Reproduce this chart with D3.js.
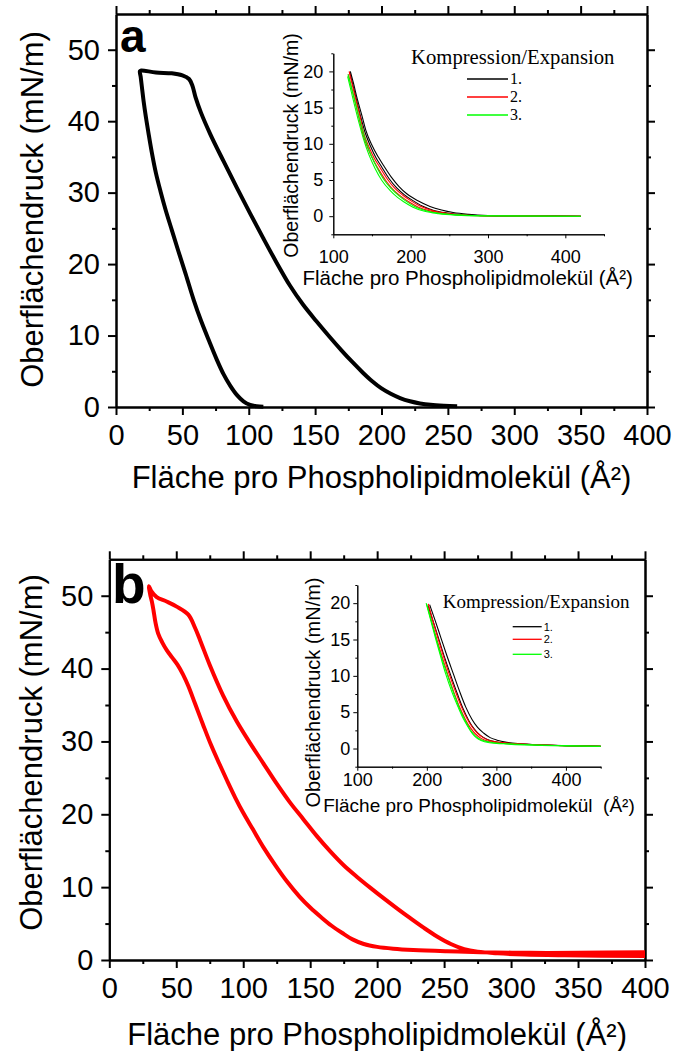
<!DOCTYPE html>
<html>
<head>
<meta charset="utf-8">
<title>Isothermen a / b</title>
<script src="https://cdn.jsdelivr.net/npm/d3@7"></script>
<style>
  body { margin: 0; background: #fff; }
  text { font-family: "Liberation Sans", Arial, sans-serif; fill: #000; }
  .serif { font-family: "Liberation Serif", "Times New Roman", serif; }
  .main .domain, .main .tick line { stroke: #000; stroke-width: 2; }
  .inset .domain, .inset .tick line { stroke: #000; stroke-width: 1; }
</style>
</head>
<body>
<script>
// ---- data ----
var mainXTicks = [0, 50, 100, 150, 200, 250, 300, 350, 400];
var mainXMinor = [25, 75, 125, 175, 225, 275, 325, 375];
var mainYTicks = [0, 10, 20, 30, 40, 50];
var mainYMinor = [5, 15, 25, 35, 45];
var insetXTicks = [100, 200, 300, 400];
var insetXMinor = [150, 250, 350, 450];
var insetYTicks = [0, 5, 10, 15, 20];
var insetYMinor = [-2.5, 2.5, 7.5, 12.5, 17.5, 22.5];
var legendLabels = ['1.', '2.', '3.'];

// panel a: hysteresis loop (compression right branch -> plateau -> expansion left branch)
var loopA = [[257,0.12],[247,0.18],[237,0.3],[229,0.5],[221.5,0.8],[214,1.25],[207,1.85],[200,2.6],[193,3.6],
  [186,4.8],[178,6.3],[170,7.9],[161,9.8],[151,12.0],[141,14.3],[131,17.0],[121,20.2],[111,23.6],
  [101,27.1],[91,30.7],[81,34.4],[71,38.2],[64,41.2],[60,43.3],[57.5,45.0],[55,45.9],[50,46.4],[42,46.7],
  [30,46.8],[19,47.1],[18,47.0],[18.6,46.2],[19.5,44.8],[20.8,42.8],[22.5,40.6],[24.5,38.3],[27,35.6],
  [30,32.8],[33.5,30.2],[37.5,27.5],[42,24.8],[47,21.8],[52.5,18.6],[58.5,15.0],[64,12.1],[70,9.3],
  [76,6.6],[81,4.6],[86,3.0],[91,1.7],[96,0.8],[101,0.3],[106,0.1],[111,0.03]];

// panel b: hysteresis loop
var loopB = [[400,0.55],[340,0.65],[310,0.75],[290,0.92],[275,1.15],[265,1.5],[255,2.2],[245,3.2],[235,4.4],
  [225,5.7],[215,7.05],[205,8.45],[195,9.9],[185,11.4],[175,13.0],[165,14.9],[155,17.0],[145,19.3],[135,21.6],
  [125,24.2],[115,27.0],[105,29.8],[95,32.8],[85,36.3],[75,40.5],[68,43.8],[64,45.6],[59,47.4],[50.3,48.5],
  [42.8,49.2],[35.4,49.8],[31.5,50.6],[29.6,51.3],[30.5,50.2],[31.8,49.2],[33,48.0],[34.5,46.3],[36.5,44.8],
  [39.5,43.6],[43,42.5],[47,41.5],[51,40.5],[55,39.2],[59,37.6],[64,35.2],[70,32.3],[76,29.5],[82,27.0],
  [88,24.6],[94,22.3],[100,20.2],[107,18.0],[115,15.5],[124,13.0],[133,10.7],[142,8.7],[150,7.2],[158,5.9],
  [166,4.7],[174,3.7],[182,2.8],[190,2.2],[200,1.8],[212,1.55],[227,1.37],[252,1.2],[277,1.08],[314,0.98],
  [350,1.0],[400,1.05]];

// inset a: three compression/expansion cycles
var insetA1c = [[122,20],[126,18.4],[131,16.2],[137,13.9],[142,11.9],[150,9.8],[158,8.2],[165,7.0],[175,5.4],
  [185,4.1],[195,3.1],[210,2.1],[225,1.35],[240,0.85],[255,0.5],[275,0.25],[300,0.1],[340,0.03],[420,0]];
var insetA1e = [[121.5,19.8],[126,17.8],[131,15.6],[136,13.5],[141,11.6],[148,9.7],[155,8.1],[162,6.9],[172,5.2],
  [182,3.9],[192,2.95],[203,2.15],[215,1.4],[230,0.8],[247,0.45],[267,0.2],[295,0.07],[340,0.02],[420,0]];
var insetA2c = [[120.5,20],[125,18],[130,15.8],[135,13.6],[139,11.6],[146,9.6],[153,8.0],[160,6.8],[170,5.1],
  [180,3.8],[190,2.9],[200,2.15],[212,1.4],[228,0.8],[245,0.45],[265,0.2],[290,0.08],[330,0.02],[420,0]];
var insetA2e = [[119.5,19.6],[124,17.6],[129,15.4],[134,13.2],[138,11.4],[145,9.3],[152,7.7],[159,6.4],[168,4.9],
  [178,3.6],[188,2.7],[198,1.95],[210,1.25],[226,0.7],[243,0.38],[262,0.17],[290,0.06],[420,0]];
var insetA3c = [[119,19.6],[124,17.6],[129,15.5],[134,13.4],[140,11.1],[147,8.9],[156,6.8],[165,5.1],[175,3.8],
  [185,2.8],[193,2.15],[205,1.35],[220,0.75],[238,0.4],[260,0.18],[290,0.06],[420,0]];
var insetA3e = [[118.5,19.3],[123,17.3],[128,15.1],[133,13.0],[139,10.7],[146,8.5],[154,6.6],[163,4.9],[173,3.6],
  [183,2.6],[191,2.0],[203,1.25],[218,0.68],[236,0.35],[258,0.15],[290,0.05],[420,0]];

// inset b: three compression/expansion cycles
var insetB1c = [[204,19.8],[212,17.6],[220,15.3],[228,13.0],[238,10.3],[247,7.9],[256,5.7],[265,4.0],[273,2.9],
  [282,2.1],[291,1.5],[301,1.15],[315,0.85],[335,0.65],[360,0.5],[400,0.4],[450,0.3]];
var insetB1e = [[202,19.6],[210,17.2],[218,14.8],[226,12.4],[235,9.9],[244,7.5],[252,5.5],[260,3.9],[268,2.7],
  [277,1.8],[287,1.25],[300,0.9],[320,0.7],[350,0.55],[400,0.4],[450,0.3]];
var insetB2c = [[202,19.9],[209,17.5],[216,15.2],[223,13.0],[232,10.3],[241,7.9],[250,5.7],[258,4.1],[265,3.0],
  [273,2.1],[281,1.5],[290,1.1],[305,0.85],[325,0.7],[350,0.55],[400,0.38],[450,0.3]];
var insetB2e = [[201,19.6],[208,17.1],[215,14.8],[222,12.6],[230,10.2],[239,7.7],[248,5.5],[256,3.9],[263,2.8],
  [270,2.0],[278,1.4],[288,1.0],[305,0.78],[330,0.62],[360,0.5],[400,0.38],[450,0.3]];
var insetB3c = [[199,20],[206,17.5],[213,15.0],[220,12.6],[227,10.3],[236,7.8],[245,5.7],[252,4.2],[259,3.0],
  [265,2.1],[271,1.5],[278,1.1],[290,0.8],[310,0.65],[340,0.5],[400,0.35],[450,0.3]];
var insetB3e = [[200,19.8],[208,17.0],[215,14.6],[222,12.3],[230,10.0],[239,7.5],[248,5.3],[256,3.7],[263,2.5],
  [270,1.7],[278,1.2],[290,0.9],[310,0.7],[340,0.55],[400,0.4],[450,0.32]];

var cycleColors = ['#000000', '#ff0000', '#00ff00'];
var xTitle = 'Fläche pro Phospholipidmolekül (Å²)';
var yTitle = 'Oberflächendruck (mN/m)';

var svg = d3.select('body').append('svg')
  .attr('width', 677).attr('height', 1051);
svg.append('rect').attr('width', 677).attr('height', 1051).attr('fill', '#fff');

function drawMain(c) {
  var x = d3.scaleLinear().domain([0, 400]).range([c.left, c.right]);
  var y = d3.scaleLinear().domain([0, 55]).range([c.bottom, c.top]);
  var g = svg.append('g').attr('class', 'main');

  function ax(axis, tr, vals, size, labels, pad) {
    var a = axis.tickValues(vals).tickSize(size).tickSizeOuter(0).tickPadding(pad || 0);
    if (!labels) a.tickFormat('');
    var s = g.append('g').attr('transform', tr).call(a);
    s.selectAll('text').attr('font-size', 29).attr('font-family', null);
    return s;
  }
  var tb = 'translate(0,' + c.bottom + ')', tt = 'translate(0,' + c.top + ')';
  var tl = 'translate(' + c.left + ',0)', tr = 'translate(' + c.right + ',0)';
  ax(d3.axisBottom(x), tb, mainXTicks, 8, true, c.xPad);
  ax(d3.axisBottom(x), tb, mainXMinor, 4);
  ax(d3.axisTop(x), tt, mainXTicks, 8);
  ax(d3.axisTop(x), tt, mainXMinor, 4);
  ax(d3.axisLeft(y), tl, mainYTicks, 8, true, 8);
  ax(d3.axisLeft(y), tl, mainYMinor, 4);
  ax(d3.axisRight(y), tr, mainYTicks, 8);
  ax(d3.axisRight(y), tr, mainYMinor, 4);

  var line = d3.line().x(function(d) { return x(d[0]); }).y(function(d) { return y(d[1]); })
    .curve(d3.curveCatmullRom.alpha(0.5));
  g.append('path').attr('d', line(c.data)).attr('fill', 'none')
    .attr('stroke', c.color).attr('stroke-width', 4).attr('stroke-linejoin', 'round');

  g.append('text').attr('x', (c.left + c.right) / 2).attr('y', c.xTitleY)
    .attr('text-anchor', 'middle').attr('font-size', 31).text(xTitle);
  g.append('text').attr('transform', 'translate(' + c.yTitleX + ',' + c.yTitleY + ') rotate(-90)')
    .attr('text-anchor', 'middle').attr('font-size', 31).text(yTitle);
  g.append('text').attr('x', c.tagX).attr('y', c.tagY).attr('font-weight', 'bold')
    .attr('font-size', c.tagSize).text(c.tag);
}

function drawInset(c) {
  var x = d3.scaleLinear().domain([100, 450]).range([c.left, c.right]);
  var y = d3.scaleLinear().domain([-2.5, 22.5]).range([c.bottom, c.top]);
  var g = svg.append('g').attr('class', 'inset');

  g.append('g').attr('transform', 'translate(0,' + c.bottom + ')')
    .call(d3.axisBottom(x).tickValues(insetXTicks).tickSize(4).tickSizeOuter(0).tickPadding(c.xPad));
  g.append('g').attr('transform', 'translate(0,' + c.bottom + ')')
    .call(d3.axisBottom(x).tickValues(insetXMinor).tickSize(2).tickSizeOuter(0).tickFormat(''));
  g.append('g').attr('transform', 'translate(' + c.left + ',0)')
    .call(d3.axisLeft(y).tickValues(insetYTicks).tickSize(4).tickSizeOuter(0).tickPadding(c.yPad));
  g.append('g').attr('transform', 'translate(' + c.left + ',0)')
    .call(d3.axisLeft(y).tickValues(insetYMinor).tickSize(2).tickSizeOuter(0).tickFormat(''));
  g.selectAll('.tick text').attr('font-size', 18).attr('font-family', null);

  var line = d3.line().x(function(d) { return x(d[0]); }).y(function(d) { return y(d[1]); })
    .curve(d3.curveMonotoneX);
  c.curves.forEach(function(cv) {
    g.append('path').attr('d', line(cv.pts)).attr('fill', 'none')
      .attr('stroke', cycleColors[cv.cycle]).attr('stroke-width', 1.1);
  });

  g.append('text').attr('x', (c.left + c.right) / 2 + c.xTitleDx).attr('y', c.xTitleY)
    .attr('text-anchor', 'middle').attr('font-size', c.titleSize)
    .style('white-space', 'pre').text(c.xTitle);
  g.append('text').attr('transform', 'translate(' + c.yTitleX + ',' + c.yTitleY + ') rotate(-90)')
    .attr('text-anchor', 'middle').attr('font-size', c.yTitleSize).text(yTitle);

  // legend
  g.append('text').attr('class', 'serif').attr('x', c.legX).attr('y', c.legY)
    .attr('font-size', c.legSize).text('Kompression/Expansion');
  legendLabels.forEach(function(lab, i) {
    var ly = c.itemY[i];
    g.append('line').attr('x1', c.itemX1).attr('x2', c.itemX2).attr('y1', ly).attr('y2', ly)
      .attr('stroke', cycleColors[i]).attr('stroke-width', 1.3);
    g.append('text').attr('class', c.itemSerif ? 'serif' : null)
      .attr('x', c.itemX2 + 2).attr('y', ly + c.itemDy)
      .attr('font-size', c.itemSize).text(lab);
  });
}

drawMain({ left: 116, right: 647, top: 14, bottom: 407, data: loopA, color: '#000',
  xPad: 9, xTitleY: 488, yTitleX: 43, yTitleY: 209.5, tag: 'a', tagX: 120, tagY: 52, tagSize: 46 });
drawMain({ left: 109.3, right: 645, top: 559.3, bottom: 960, data: loopB, color: '#ff0000',
  xPad: 9, xTitleY: 1045, yTitleX: 42, yTitleY: 752.5, tag: 'b', tagX: 112, tagY: 603, tagSize: 55 });

drawInset({ left: 333.3, right: 604, top: 53.3, bottom: 234.3, xPad: 12, yPad: 6,
  curves: [{ pts: insetA1c, cycle: 0 }, { pts: insetA1e, cycle: 0 }, { pts: insetA2c, cycle: 1 },
    { pts: insetA2e, cycle: 1 }, { pts: insetA3c, cycle: 2 }, { pts: insetA3e, cycle: 2 }],
  xTitle: xTitle, xTitleDx: -1, xTitleY: 284.5, titleSize: 20.5, yTitleX: 298, yTitleY: 145.5, yTitleSize: 19.5,
  legX: 411, legY: 64, legSize: 20.7, itemX1: 467, itemX2: 508, itemY: [79, 97, 115], itemDy: 5,
  itemSize: 16, itemSerif: true });
drawInset({ left: 357.3, right: 600.7, top: 585, bottom: 766.7, xPad: 3, yPad: 3,
  curves: [{ pts: insetB1c, cycle: 0 }, { pts: insetB1e, cycle: 0 }, { pts: insetB2c, cycle: 1 },
    { pts: insetB2e, cycle: 1 }, { pts: insetB3c, cycle: 2 }, { pts: insetB3e, cycle: 2 }],
  xTitle: 'Fläche pro Phospholipidmolekül\u00a0 (Å²)', xTitleDx: 0, xTitleY: 812, titleSize: 19,
  yTitleX: 320, yTitleY: 692.5, yTitleSize: 20,
  legX: 442.7, legY: 608, legSize: 19, itemX1: 512.7, itemX2: 541.7, itemY: [626.7, 639.3, 654.3], itemDy: 4,
  itemSize: 11, itemSerif: false });
</script>
</body>
</html>
